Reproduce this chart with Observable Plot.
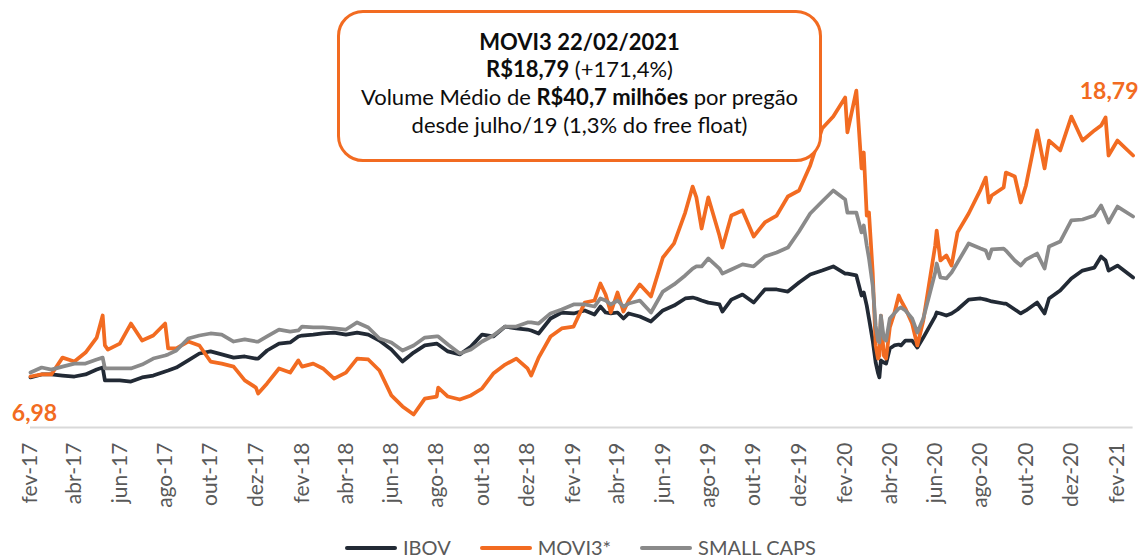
<!DOCTYPE html>
<html>
<head>
<meta charset="utf-8">
<script src="https://cdn.jsdelivr.net/npm/d3@7"></script>
<script src="https://cdn.jsdelivr.net/npm/@observablehq/plot@0.6"></script>
<style>
  html, body { margin: 0; padding: 0; background: #fff; }
  #wrap { position: relative; width: 1140px; height: 559px; overflow: hidden; background: #fff; font-family: Lato, "Open Sans", sans-serif; }
  #chart svg { display: block; }
  .callout {
    position: absolute; left: 337px; top: 10px; width: 485px; height: 152px;
    box-sizing: border-box; border: 3px solid #F26B21; border-radius: 26px;
    background: #fff; text-align: center; font-size: 22px; line-height: 27.7px;
    padding-top: 14.5px; color: #0d0d0d; white-space: nowrap;
  }
  .legend {
    position: absolute; left: 345px; top: 533px; height: 29px;
    display: flex; align-items: center; font-size: 20px; color: #595959; line-height: 29px;
  }
  .legend .item { display: flex; align-items: center; margin-right: 29px; }
  .legend .sw { width: 52px; height: 4px; border-radius: 2px; margin-right: 6px; }
</style>
</head>
<body>
<div id="wrap">
  <div id="chart"></div>
  <div class="callout">
    <b>MOVI3 22/02/2021</b><br>
    <b>R$18,79</b> (+171,4%)<br>
    Volume Médio de <b>R$40,7 milhões</b> por pregão<br>
    desde julho/19 (1,3% do free float)
  </div>
  <div class="legend" id="legend"></div>
</div>
<script>
const dates = [
  "2017-02-01","2017-02-16","2017-03-01","2017-03-16","2017-04-01","2017-04-16","2017-05-01","2017-05-09","2017-05-12","2017-05-16",
  "2017-06-01","2017-06-16","2017-07-01","2017-07-16","2017-08-01","2017-08-05","2017-08-16","2017-09-01","2017-09-16","2017-10-01",
  "2017-10-16","2017-11-01","2017-11-16","2017-12-01","2017-12-04","2017-12-16","2018-01-01","2018-01-16","2018-01-27","2018-02-01",
  "2018-02-16","2018-03-01","2018-03-16","2018-04-01","2018-04-16","2018-05-01","2018-05-16","2018-06-01","2018-06-16","2018-07-01",
  "2018-07-16","2018-08-01","2018-08-03","2018-08-16","2018-09-01","2018-09-16","2018-10-01","2018-10-16","2018-11-01","2018-11-16",
  "2018-12-01","2018-12-06","2018-12-16","2019-01-01","2019-01-16","2019-02-01","2019-02-16","2019-03-01","2019-03-09","2019-03-16",
  "2019-03-23","2019-04-01","2019-04-09","2019-04-16","2019-05-01","2019-05-16","2019-06-01","2019-06-16","2019-07-01","2019-07-11",
  "2019-07-16","2019-07-23","2019-08-01","2019-08-16","2019-08-20","2019-09-01","2019-09-16","2019-10-01","2019-10-16","2019-11-01",
  "2019-11-16","2019-12-01","2019-12-16","2020-01-01","2020-01-16","2020-02-01","2020-02-04","2020-02-16","2020-02-23","2020-02-26",
  "2020-03-01","2020-03-04","2020-03-09","2020-03-13","2020-03-16","2020-03-18","2020-03-20","2020-03-24","2020-03-27","2020-04-01",
  "2020-04-07","2020-04-13","2020-04-16","2020-04-22","2020-05-01","2020-05-08","2020-05-16","2020-06-01","2020-06-03","2020-06-08",
  "2020-06-16","2020-06-23","2020-07-01","2020-07-16","2020-08-01","2020-08-08","2020-08-12","2020-08-16","2020-09-01","2020-09-04",
  "2020-09-16","2020-09-24","2020-10-01","2020-10-16","2020-10-26","2020-11-01","2020-11-16","2020-12-01","2020-12-16","2021-01-01",
  "2021-01-10","2021-01-16","2021-01-20","2021-02-01","2021-02-22"
];

const movi3 = [
  6.98,7.09,7.09,7.99,7.78,8.26,9.06,10.24,8.64,8.42,
  8.74,9.81,8.90,9.17,9.81,8.48,8.48,8.85,8.64,7.78,
  7.67,7.51,6.77,6.39,6.07,6.61,7.41,7.19,7.84,7.51,
  7.67,7.41,6.87,7.19,7.94,7.89,7.30,5.97,5.38,4.95,
  5.80,5.91,6.39,5.91,5.75,5.97,6.34,7.14,7.62,7.94,
  7.41,7.03,7.99,9.12,9.55,9.65,10.93,11.04,11.95,11.36,
  10.40,11.47,10.45,11.04,11.90,11.26,13.34,14.09,15.74,17.13,
  16.55,14.89,16.55,14.51,13.87,15.58,15.85,14.46,15.21,15.58,
  16.60,16.92,18.26,20.23,20.87,21.89,20.02,22.26,18.10,18.95,
  15.58,15.74,12.54,8.64,7.94,8.10,10.24,8.10,7.94,9.60,
  10.35,11.31,11.04,10.61,9.81,8.64,9.97,13.98,14.78,13.18,
  13.45,12.91,14.68,15.69,16.97,17.61,16.28,16.65,17.08,17.88,
  17.67,16.28,17.19,20.13,18.10,19.59,19.06,20.87,19.59,20.13,
  20.39,20.82,18.79,19.59,18.79
];

const ibov = [
  6.93,7.09,7.09,7.03,6.98,7.09,7.35,7.46,6.77,6.77,
  6.77,6.71,6.93,7.03,7.25,7.30,7.46,7.84,8.21,8.32,
  8.16,7.99,8.05,7.94,7.94,8.37,8.74,8.80,9.12,9.17,
  9.22,9.28,9.33,9.22,9.33,9.22,8.90,8.42,7.78,8.26,
  8.64,8.74,8.69,8.32,8.16,8.58,9.22,9.12,9.65,9.55,
  9.49,9.44,9.28,10.08,10.40,10.35,10.51,10.29,10.72,10.40,
  10.35,10.40,10.08,10.35,10.19,9.92,10.51,10.77,11.15,11.20,
  11.15,11.04,10.93,10.83,10.45,11.09,11.36,10.93,11.63,11.63,
  11.52,12.00,12.43,12.64,12.86,12.48,12.48,12.38,11.31,11.47,
  10.77,10.08,8.90,7.73,7.19,6.93,7.84,7.73,7.67,8.48,
  8.64,8.69,8.64,8.90,8.90,8.53,9.06,10.19,10.40,10.35,
  10.24,10.35,10.56,11.09,11.15,11.09,11.04,10.99,10.88,10.88,
  10.56,10.35,10.51,10.93,10.35,11.15,11.58,12.22,12.64,12.80,
  13.39,13.18,12.64,12.91,12.27
];

const smallCaps = [
  7.19,7.46,7.35,7.51,7.67,7.67,7.89,7.99,7.41,7.41,
  7.41,7.41,7.62,7.94,8.10,8.16,8.37,9.01,9.17,9.28,
  9.22,8.85,8.96,8.85,8.85,9.12,9.49,9.38,9.44,9.65,
  9.60,9.60,9.55,9.49,9.87,9.60,9.01,8.80,8.37,8.64,
  9.06,9.12,9.12,8.69,8.21,8.42,8.85,9.17,9.65,9.65,
  9.87,9.87,9.81,10.35,10.56,10.83,10.83,10.72,11.15,11.04,
  10.83,11.04,10.72,10.88,11.04,10.40,11.52,11.90,12.38,12.75,
  12.86,12.86,13.29,12.75,12.48,12.70,12.97,12.86,13.39,13.61,
  13.87,14.73,15.69,16.33,16.92,16.44,15.74,15.74,14.68,15.05,
  13.98,13.29,11.84,9.71,8.90,8.80,10.24,9.01,8.90,10.08,
  10.35,10.61,10.67,10.51,10.08,9.33,10.08,12.54,13.02,12.27,
  12.22,12.54,13.07,14.09,13.82,13.71,13.29,13.77,13.82,13.71,
  13.18,12.91,13.23,13.55,12.75,13.93,14.19,15.32,15.37,15.58,
  16.12,15.58,15.21,16.06,15.53
];

const seriesNames = ["IBOV", "MOVI3*", "SMALL CAPS"];
const seriesColors = ["#222A35", "#F26B21", "#8A8A8A"];
const monthNames = ["jan","fev","mar","abr","mai","jun","jul","ago","set","out","nov","dez"];

const parse = d3.utcParse("%Y-%m-%d");
const allSeries = [ibov, movi3, smallCaps];
const rows = [];
allSeries.forEach((vals, i) => vals.forEach((v, j) => rows.push({date: parse(dates[j]), value: v, series: seriesNames[i]})));

const yMin = 4.25, yMax = 24;
const xStart = parse("2017-02-01"), xEnd = parse(dates[dates.length - 1]);
const ticks = d3.utcMonth.range(xStart, parse("2021-02-02"), 2);
const fmtNum = v => d3.format(".2f")(v).replace(".", ",");
const moviFirst = {date: parse(dates[0]), value: movi3[0]};
const moviLast = {date: parse(dates[dates.length - 1]), value: movi3[movi3.length - 1]};

const chart = Plot.plot({
  width: 1140,
  height: 530,
  marginLeft: 30,
  marginRight: 7.4,
  marginTop: 57.5,
  marginBottom: 102.9,
  style: {fontFamily: "Lato, 'Open Sans', sans-serif", background: "#fff"},
  x: {type: "utc", domain: [xStart, xEnd]},
  y: {domain: [yMin, yMax], axis: null},
  color: {domain: seriesNames, range: seriesColors},
  marks: [
    Plot.ruleY([yMin], {stroke: "#D9D9D9", strokeWidth: 2}),
    Plot.axisX({
      ticks,
      tickFormat: d => `${monthNames[d.getUTCMonth()]}-${String(d.getUTCFullYear()).slice(2)}`,
      tickRotate: -90, tickSize: 0, tickPadding: 15, fontSize: 21, fill: "#595959", label: null
    }),
    Plot.line(rows, {x: "date", y: "value", z: "series", stroke: "series", strokeWidth: 3.75, strokeLinejoin: "round", strokeLinecap: "round"}),
    Plot.text([moviFirst], {x: "date", y: "value", text: d => fmtNum(d.value), fill: seriesColors[1], fontSize: 23, fontWeight: "bold", dx: 4, dy: 37, textAnchor: "middle"}),
    Plot.text([moviLast], {x: "date", y: "value", text: d => fmtNum(d.value), fill: seriesColors[1], fontSize: 23, fontWeight: "bold", dx: -24, dy: -64, textAnchor: "middle"})
  ]
});
document.getElementById("chart").appendChild(chart);

const legend = document.getElementById("legend");
seriesNames.forEach((name, i) => {
  const item = document.createElement("div");
  item.className = "item";
  const sw = document.createElement("span");
  sw.className = "sw";
  sw.style.background = seriesColors[i];
  const label = document.createElement("span");
  label.textContent = name;
  item.appendChild(sw);
  item.appendChild(label);
  legend.appendChild(item);
});
</script>
</body>
</html>
